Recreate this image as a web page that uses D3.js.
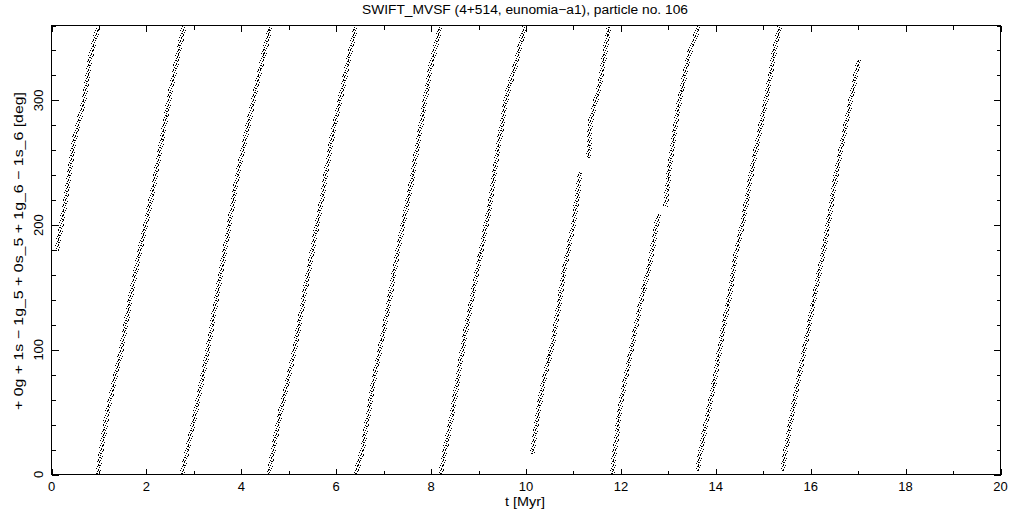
<!DOCTYPE html>
<html><head><meta charset="utf-8">
<script src="https://cdn.jsdelivr.net/npm/d3@7"></script>
<style>html,body{margin:0;padding:0;background:#fff}svg{display:block}</style>
</head><body>
<svg id="c" width="1021" height="511"></svg>
<script>
// ---- data (t [Myr], angle [deg]) ----
const seg01 = [[0.105,179],[0.295,219],[0.47,267],[0.68,299],[0.82,334],[0.98,359]];
const seg02 = [[0.976,0.5],[1.17,48.5],[1.454,96.5],[1.665,141.8],[1.876,181.8],[2.12,224.5],[2.297,261.8],[2.508,307],[2.788,359]];
const seg03 = [[2.754,0.5],[3.0,43],[3.28,96.5],[3.49,144.5],[3.70,190],[3.91,238],[4.16,283],[4.37,320.5],[4.615,359]];
const seg04 = [[4.58,0.5],[4.83,51],[5.107,96.5],[5.317,141.8],[5.56,192.5],[5.74,230],[5.88,264.5],[6.09,302],[6.407,359]];
const seg05 = [[6.407,0.5],[6.55,19],[6.79,75],[7.07,128.5],[7.285,176.5],[7.566,230],[7.777,278],[7.987,326],[8.198,359]];
const seg06 = [[8.198,0.5],[8.445,48.5],[8.69,107],[8.97,163],[9.216,211],[9.39,256.5],[9.60,305],[9.79,330],[9.97,359]];
const seg07a = [[10.13,16.5],[10.34,70],[10.59,110],[10.80,163],[11.01,203],[11.15,243]];
const seg07b = [[11.32,254],[11.36,283],[11.57,315],[11.745,359]];
const seg08a = [[11.815,0.5],[11.99,56.5],[12.20,96.5],[12.41,136.5],[12.62,171],[12.79,208.5]];
const seg08b = [[12.94,215],[12.98,230],[13.04,251],[13.22,296.5],[13.43,336.5],[13.64,359]];
const seg09 = [[13.61,3],[13.75,32.5],[13.96,72.5],[14.135,112.5],[14.27,139],[14.43,178],[14.59,206],[14.77,246],[14.94,278],[15.08,304.5],[15.22,336.5],[15.35,359]];
const seg10 = [[15.40,3],[15.57,40.5],[15.75,78],[15.93,112.5],[16.10,147],[16.30,185],[16.56,246],[16.77,286],[16.91,312.5],[17.01,332.5]];
const segments = [seg01, seg02, seg03, seg04, seg05, seg06, seg07a, seg07b, seg08a, seg08b, seg09, seg10];

const xMajor = [0,2,4,6,8,10,12,14,16,18,20];
const xMinor = [1,3,5,7,9,11,13,15,17,19];
const yMajor = [0,100,200,300];
const yMinor = [20,40,60,80,120,140,160,180,220,240,260,280,320,340,360];

const titleText = "SWIFT_MVSF (4+514, eunomia\u2212a1), particle no. 106";
const xLabelText = "t [Myr]";
const yLabelText = "+ 0g + 1s \u2212 1g_5 + 0s_5 + 1g_6 \u2212 1s_6 [deg]";

// ---- drawing ----
const svg = d3.select("#c");
const L = 51.5, R = 1000.5, T = 25.5, B = 474.5;
const x = d3.scaleLinear().domain([0,20]).range([L,R]);
const y = d3.scaleLinear().domain([0,360]).range([B,T]);
const font = "'Liberation Sans', Arial, sans-serif";

const defs = svg.append("defs");
const pat = defs.append("pattern").attr("id","speck").attr("patternUnits","userSpaceOnUse")
  .attr("width",5).attr("height",5);
[[0,0],[2,1],[4,2],[1,3],[3,4],[3,0]].forEach(p=>{
  pat.append("rect").attr("x",p[0]).attr("y",p[1]).attr("width",1).attr("height",1).attr("fill","#000");
});

const clip = defs.append("clipPath").attr("id","pc");
clip.append("rect").attr("x",L).attr("y",T).attr("width",R-L).attr("height",B-T);

const line = d3.line().x(d=>x(d[0])).y(d=>y(d[1]));
const g = svg.append("g").attr("clip-path","url(#pc)");
g.selectAll("path.band").data(segments).enter().append("path")
  .attr("class","band").attr("d",line).attr("fill","none")
  .attr("stroke","url(#speck)").attr("stroke-width",5).attr("shape-rendering","crispEdges");
g.selectAll("path.core").data(segments).enter().append("path")
  .attr("class","core").attr("d",line).attr("fill","none")
  .attr("stroke","#000").attr("stroke-width",1).attr("stroke-dasharray","1 3")
  .attr("shape-rendering","crispEdges");

// frame
svg.append("rect").attr("x",L).attr("y",T).attr("width",R-L).attr("height",B-T)
  .attr("fill","none").attr("stroke","#000").attr("stroke-width",1).attr("shape-rendering","crispEdges");

// ticks
const tk = svg.append("g").attr("stroke","#000").attr("stroke-width",1).attr("shape-rendering","crispEdges");
function xt(vals,len){
  vals.forEach(v=>{
    tk.append("line").attr("x1",Math.round(x(v))+0.5).attr("x2",Math.round(x(v))+0.5).attr("y1",B).attr("y2",B-len);
    tk.append("line").attr("x1",Math.round(x(v))+0.5).attr("x2",Math.round(x(v))+0.5).attr("y1",T).attr("y2",T+len);
  });
}
function yt(vals,len){
  vals.forEach(v=>{
    tk.append("line").attr("y1",Math.round(y(v))+0.5).attr("y2",Math.round(y(v))+0.5).attr("x1",L).attr("x2",L+len);
    tk.append("line").attr("y1",Math.round(y(v))+0.5).attr("y2",Math.round(y(v))+0.5).attr("x1",R).attr("x2",R-len);
  });
}
xt(xMajor,6); xt(xMinor,4);
yt(yMajor,7); yt(yMinor,4);

// tick labels
svg.append("g").selectAll("text").data(xMajor).enter().append("text")
  .attr("x",d=>x(d)).attr("y",491).attr("text-anchor","middle")
  .style("font-family",font).style("font-size","13px").text(d=>d);
svg.append("g").selectAll("text").data(yMajor).enter().append("text")
  .attr("transform",d=>`translate(43,${y(d)}) rotate(-90)`).attr("text-anchor","middle")
  .style("font-family",font).style("font-size","13px").text(d=>d);

// titles
svg.append("text").attr("x",525).attr("y",14).attr("text-anchor","middle")
  .attr("textLength",326).attr("lengthAdjust","spacingAndGlyphs")
  .style("font-family",font).style("font-size","12.5px").text(titleText);
svg.append("text").attr("x",525).attr("y",506).attr("text-anchor","middle")
  .attr("textLength",40).attr("lengthAdjust","spacingAndGlyphs")
  .style("font-family",font).style("font-size","12.5px").text(xLabelText);
svg.append("text").attr("transform","translate(23,251) rotate(-90)").attr("text-anchor","middle")
  .attr("textLength",318).attr("lengthAdjust","spacingAndGlyphs")
  .style("font-family",font).style("font-size","12.5px").text(yLabelText);
</script>
</body></html>
